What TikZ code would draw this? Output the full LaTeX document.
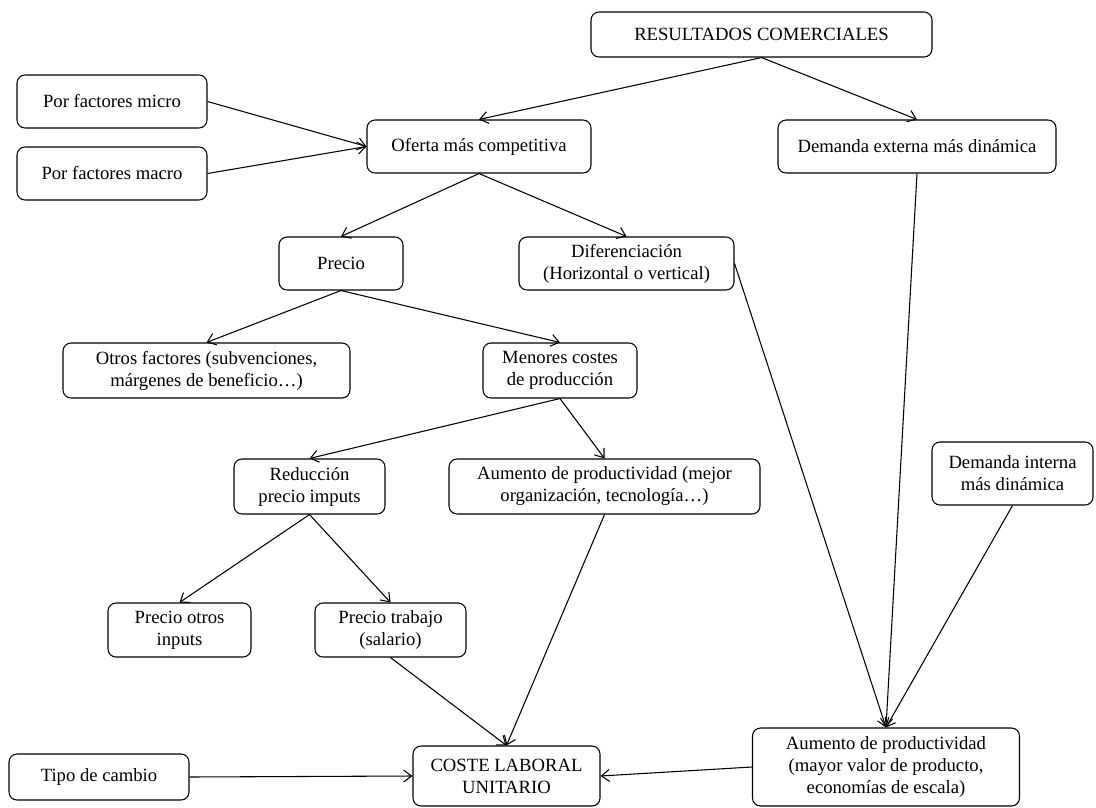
\documentclass[tikz,border=0pt]{standalone}
\usepackage{fontspec}
\setmainfont{Liberation Serif}
\usetikzlibrary{arrows.meta}

\begin{document}
\begin{tikzpicture}[
	>={Straight Barb[length=6pt,width=9pt]},
	line width=0.8pt,
	x=0.75pt,y=-0.75pt,
	font=\fontsize{14}{16.5}\selectfont,
	caja/.style={draw, rounded corners=6pt, align=center, inner sep=2pt, minimum height=39.75pt}
	]
	% frame
\useasboundingbox (0,0) rectangle (1096,807);

			\node[caja, minimum width=255.75pt, minimum height=33.75pt] (res_com)   at (761.5, 34.5) {RESULTADOS COMERCIALES};
			\node[caja, minimum width=142.5pt] (f_micro)   at (112, 101.5) {Por factores micro};
			\node[caja, minimum width=142.5pt] (f_macro)   at (112, 173.5) {Por factores macro};
			\node[caja, minimum width=168pt] (oferta)   at (479, 146.5) {Oferta más competitiva};
			\node[caja, minimum width=208.5pt] (dem_ext)   at (917, 146.5) {Demanda externa más dinámica};
			\node[caja, minimum width=93pt] (precio)   at (341, 263.5) {Precio};
			\node[caja, minimum width=161.25pt] (difer)   at (626.5, 263.5) {Diferenciación\\(Horizontal o vertical)};
			\node[caja, minimum width=215.25pt, minimum height=41.25pt] (otros)   at (206.5, 370.5) {Otros factores (subvenciones,\\márgenes de beneficio…)};
			\node[caja, minimum width=115.5pt, minimum height=41.25pt] (menores)   at (560, 370.5) {Menores costes\\de producción};
			\node[caja, minimum width=113.25pt, minimum height=41.25pt] (reduc)   at (309.5, 486.5) {Reducción\\precio imputs};
			\node[caja, minimum width=233.25pt, minimum height=41.25pt] (aum_org)   at (604.5, 486.5) {Aumento de productividad (mejor\\organización, tecnología…)};
			\node[caja, minimum width=120.75pt, minimum height=47.25pt] (dem_int)   at (1012.5, 473.5) {Demanda interna\\más dinámica};
			\node[caja, minimum width=107.25pt, minimum height=40.5pt] (p_otros)   at (179.5, 630) {Precio otros\\inputs};
			\node[caja, minimum width=113.25pt, minimum height=40.5pt] (p_trab)   at (390.5, 630) {Precio trabajo\\(salario)};
			\node[caja, minimum width=135pt, minimum height=34.5pt] (tipo)   at (99, 777) {Tipo de cambio};
			\node[caja, minimum width=140.25pt, minimum height=45pt] (coste)   at (506.5, 776) {COSTE LABORAL\\UNITARIO};
			\node[caja, minimum width=200.25pt, minimum height=58.5pt] (aum_val)   at (886, 767) {Aumento de productividad\\(mayor valor de producto,\\economías de escala)};

			\draw[->] (res_com.south) -- (oferta.north);
			\draw[->] (res_com.south) -- (dem_ext.north);
			\draw[->] (f_micro.east) -- (oferta.west);
			\draw[->] (f_macro.east) -- (oferta.west);
			\draw[->] (oferta.south) -- (precio.north);
			\draw[->] (oferta.south) -- (difer.north);
			\draw[->] (precio.south) -- (otros.north);
			\draw[->] (precio.south) -- (menores.north);
			\draw[->] (menores.south) -- (reduc.north);
			\draw[->] (menores.south) -- (aum_org.north);
			\draw[->] (reduc.south) -- (p_otros.north);
			\draw[->] (reduc.south) -- (p_trab.north);
			\draw[->] (p_trab.south) -- (coste.north);
			\draw[->] (aum_org.south) -- (coste.north);
			\draw[->] (tipo.east) -- (coste.west);
			\draw[->] (aum_val.west) -- (coste.east);
			\draw[->] (difer.east) -- (aum_val.north);
			\draw[->] (dem_ext.south) -- (aum_val.north);
			\draw[->] (dem_int.south) -- (aum_val.north);

\end{tikzpicture}
\end{document}
